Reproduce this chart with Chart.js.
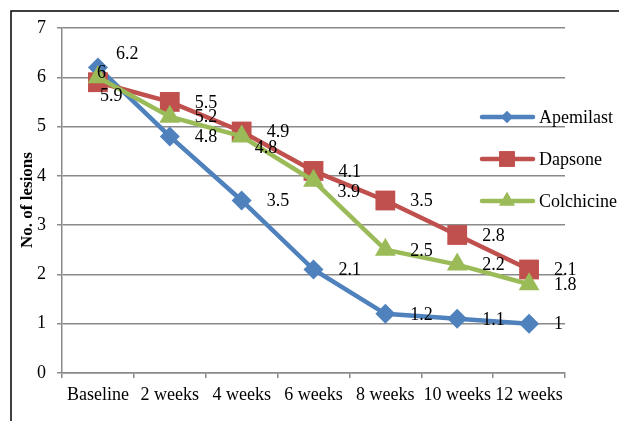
<!DOCTYPE html>
<html>
<head>
<meta charset="utf-8">
<script src="https://cdn.jsdelivr.net/npm/chart.js@4/dist/chart.umd.min.js"></script>
<style>
  html, body { margin: 0; padding: 0; background: #fff; }
  #wrap { position: relative; width: 619px; height: 421px; }
</style>
</head>
<body>
<div id="wrap"><canvas id="c" width="619" height="421"></canvas></div>
<script>
const categories = ["Baseline", "2 weeks", "4 weeks", "6 weeks", "8 weeks", "10 weeks", "12 weeks"];
const apemilast = [6.2, 4.8, 3.5, 2.1, 1.2, 1.1, 1];
const dapsone = [5.9, 5.5, 4.9, 4.1, 3.5, 2.8, 2.1];
const colchicine = [6, 5.2, 4.8, 3.9, 2.5, 2.2, 1.8];
const seriesNames = ["Apemilast", "Dapsone", "Colchicine"];
const yTitle = "No. of lesions";

const FONT = "'Liberation Serif', 'Times New Roman', serif";
const colors = ["#4F81BD", "#C0504D", "#9BBB59"];
const styles = ["rectRot", "rect", "triangle"];
const radii = [10, 14, 12];
// label nudges relative to the default "right of point" placement
const labelNudges = { "0-0": [-7, -14], "1-0": [-23, 13], "2-0": [-26, -5], "2-2": [-12, 11], "2-3": [-1, 10] };

const seriesData = [apemilast, dapsone, colchicine];

const framePlugin = {
  id: 'frame',
  beforeDraw(chart) {
    const ctx = chart.ctx;
    ctx.save();
    ctx.fillStyle = '#fff';
    ctx.fillRect(0, 0, chart.width, chart.height);
    ctx.strokeStyle = '#000';
    ctx.lineWidth = 1.5;
    ctx.strokeRect(11, 11, 800, 600);
    ctx.restore();
  }
};

const labelPlugin = {
  id: 'labels',
  afterDatasetsDraw(chart) {
    const ctx = chart.ctx;
    ctx.save();
    ctx.font = "18px " + FONT;
    ctx.fillStyle = '#000';
    ctx.textAlign = 'left';
    ctx.textBaseline = 'middle';
    chart.data.datasets.forEach((ds, di) => {
      const meta = chart.getDatasetMeta(di);
      meta.data.forEach((pt, i) => {
        const n = labelNudges[di + "-" + i] || [0, 0];
        ctx.fillText(String(ds.data[i]), pt.x + 25 + n[0], pt.y + 1 + n[1]);
      });
    });
    ctx.restore();
  }
};

const legendPlugin = {
  id: 'customLegend',
  afterDraw(chart) {
    const ctx = chart.ctx;
    ctx.save();
    const ys = [117, 159, 201];
    seriesNames.forEach((name, i) => {
      const y = ys[i];
      ctx.strokeStyle = colors[i];
      ctx.lineWidth = 4.5;
      ctx.lineCap = 'round';
      ctx.beginPath();
      ctx.moveTo(482, y);
      ctx.lineTo(533, y);
      ctx.stroke();
      ctx.fillStyle = colors[i];
      Chart.helpers.drawPoint(ctx, { pointStyle: styles[i], radius: i === 0 ? 6 : (i === 1 ? 11 : 9), borderWidth: 0 }, 507, y);
      ctx.fill();
      ctx.fillStyle = '#000';
      ctx.font = "18px " + FONT;
      ctx.textAlign = 'left';
      ctx.textBaseline = 'middle';
      ctx.fillText(name, 539, y + 1);
    });
    // y axis title
    ctx.translate(28, 200);
    ctx.rotate(-Math.PI / 2);
    ctx.font = "bold 17px " + FONT;
    ctx.textAlign = 'center';
    ctx.textBaseline = 'middle';
    ctx.fillText(yTitle, 0, 0);
    ctx.restore();
  }
};

new Chart(document.getElementById('c'), {
  type: 'line',
  data: {
    labels: categories,
    datasets: seriesData.map((d, i) => ({
      label: seriesNames[i],
      data: d,
      borderColor: colors[i],
      backgroundColor: colors[i],
      borderWidth: 4.5,
      pointStyle: styles[i],
      pointRadius: radii[i],
      pointBorderWidth: 0,
      pointBackgroundColor: colors[i],
      tension: 0,
      order: 2 - i
    }))
  },
  options: {
    responsive: false,
    animation: false,
    devicePixelRatio: 1,
    layout: { padding: { left: 0, right: 54, top: 28, bottom: 0 } },
    plugins: { legend: { display: false }, tooltip: { enabled: false } },
    scales: {
      x: {
        offset: true,
        grid: { offset: true, drawOnChartArea: false, color: '#8a8a8a', lineWidth: 1.5, tickLength: 5 },
        border: { color: '#8a8a8a', width: 1.5 },
        ticks: { color: '#000', font: { family: FONT, size: 18 }, padding: 6, maxRotation: 0, autoSkip: false },
        afterFit(s) { s.height = 48; }
      },
      y: {
        min: 0, max: 7,
        grid: { color: '#8a8a8a', lineWidth: 1.5, tickLength: 5 },
        border: { color: '#8a8a8a', width: 1.5 },
        ticks: { stepSize: 1, color: '#000', font: { family: FONT, size: 18 }, padding: 11 },
        afterFit(s) { s.width = 62; }
      }
    }
  },
  plugins: [framePlugin, labelPlugin, legendPlugin]
});
</script>
</body>
</html>
